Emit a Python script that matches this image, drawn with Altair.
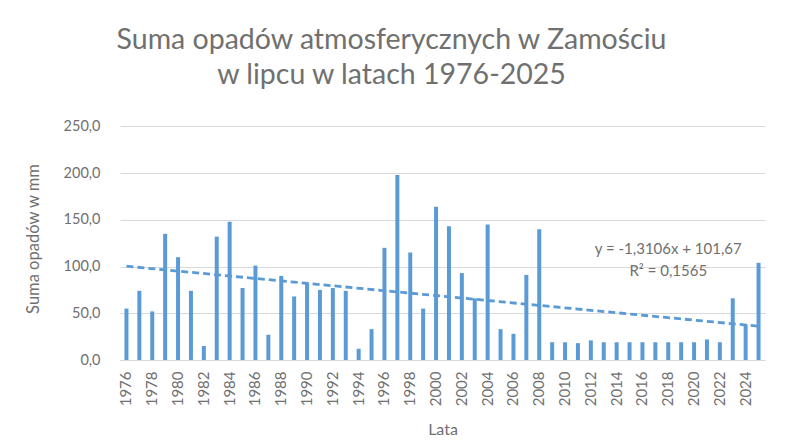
import altair as alt
import pandas as pd

years = list(range(1976, 2026))
rain = [55, 74, 52, 135, 110, 74, 15, 132, 148, 77,
        101, 27, 90, 68, 82, 75, 77, 74, 12, 33,
        120, 198, 115, 55, 164, 143, 93, 66, 145, 33,
        28, 91, 140, 19, 19, 18, 21, 19, 19, 19,
        19, 19, 19, 19, 19, 22, 19, 66, 38, 104]

trend_years = [1976, 2025]
trend_values = [100.36, 36.14]

label_years = [2018, 2018]
label_values = [119, 95]
label_texts = ["y = -1,3106x + 101,67", "R² = 0,1565"]

FONT = "Lato"
GRAY = "#707070"
BLUE = "#5B9BD5"

df = pd.DataFrame({"rok": [str(y) for y in years], "opad": rain})
tdf = pd.DataFrame({"rok": [str(y) for y in trend_years], "opad": trend_values})
ldf = pd.DataFrame({"rok": [str(y) for y in label_years], "opad": label_values, "t": label_texts})

x = alt.X("rok:N", sort=[str(y) for y in years],
          scale=alt.Scale(paddingInner=0, paddingOuter=0),
          axis=alt.Axis(title="Lata", labelAngle=270, labelAlign="right", labelBaseline="middle",
                        labelExpr="(toNumber(datum.value) % 2 == 0) ? datum.value : ''",
                        ticks=False, labelPadding=11, labelFontSize=15, labelColor=GRAY,
                        labelFont=FONT, titleFont=FONT, titleFontSize=16, titleFontWeight="normal",
                        titleColor=GRAY, titlePadding=16, domainColor="#d9d9d9", labelOverlap=False))
y = alt.Y("opad:Q", scale=alt.Scale(domain=[0, 250]),
          axis=alt.Axis(title="Suma opadów w mm", values=[0, 50, 100, 150, 200, 250],
                        labelExpr="replace(format(datum.value, '.1f'), '.', ',')",
                        ticks=False, domain=False, labelPadding=20, labelFontSize=14.5,
                        labelColor=GRAY, labelFont=FONT, titleFont=FONT, titleFontSize=16.5,
                        titleFontWeight="normal", titleColor=GRAY, titlePadding=22,
                        gridColor="#d9d9d9", gridWidth=1))

bars = alt.Chart(df).mark_bar(size=4, color=BLUE).encode(x=x, y=y)
trend = alt.Chart(tdf).mark_line(color=BLUE, strokeWidth=2.8, strokeDash=[7, 4]).encode(
    x=alt.X("rok:N", sort=[str(y) for y in years]), y=alt.Y("opad:Q"))
labels = alt.Chart(ldf).mark_text(font=FONT, fontSize=15, color=GRAY, align="center").encode(
    x=alt.X("rok:N", sort=[str(y) for y in years]), y=alt.Y("opad:Q"), text="t:N")

chart = alt.layer(bars, trend, labels).properties(
    width=645, height=243,
    title=alt.TitleParams(["Suma opadów atmosferycznych w Zamościu", "w lipcu w latach 1976-2025"],
                          font=FONT, fontSize=28.5, fontWeight="normal", color=GRAY,
                          anchor="middle", dx=-51, offset=28, lineHeight=35),
    autosize=alt.AutoSizeParams(type="none"),
    padding={"left": 112, "top": 109, "right": 29, "bottom": 78},
).configure_view(stroke=None)

chart.save("out.html", embed_options={"renderer": "svg", "actions": False})
